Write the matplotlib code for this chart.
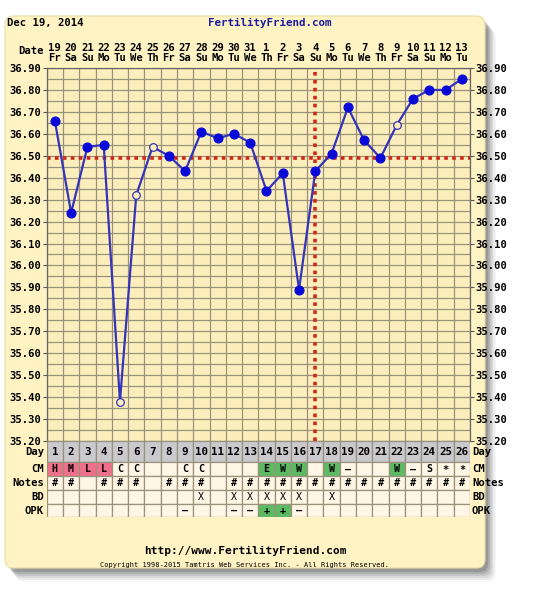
import numpy as np
import matplotlib.pyplot as plt
from matplotlib.patches import FancyBboxPatch, Rectangle

W, H = 551, 600

# chart data
days = list(range(1, 27))
dates = ["19", "20", "21", "22", "23", "24", "25", "26", "27", "28", "29", "30", "31",
         "1", "2", "3", "4", "5", "6", "7", "8", "9", "10", "11", "12", "13"]
weekdays = ["Fr", "Sa", "Su", "Mo", "Tu", "We", "Th", "Fr", "Sa", "Su", "Mo", "Tu", "We",
            "Th", "Fr", "Sa", "Su", "Mo", "Tu", "We", "Th", "Fr", "Sa", "Su", "Mo", "Tu"]
temps = [36.66, 36.24, 36.54, 36.55, 35.38, 36.32, 36.54, 36.50, 36.43, 36.61,
         36.58, 36.60, 36.56, 36.34, 36.42, 35.89, 36.43, 36.51, 36.72, 36.57,
         36.49, 36.64, 36.76, 36.80, 36.80, 36.85]
open_days = [5, 6, 7, 22]
coverline = 36.49
ovulation_day = 17

cm = ["H", "M", "L", "L", "C", "C", "", "", "C", "C", "", "", "", "E", "W", "W",
      "", "W", "-", "", "", "W", "-", "S", "*", "*"]
notes = ["#", "#", "", "#", "#", "#", "", "#", "#", "#", "", "#", "#",
         "#", "#", "#", "#", "#", "#", "#", "#", "#", "#", "#", "#", "#"]
bd = ["", "", "", "", "", "", "", "", "", "X", "", "X", "X", "X", "X", "X",
      "", "X", "", "", "", "", "", "", "", ""]
opk = ["", "", "", "", "", "", "", "", "-", "", "", "-", "-", "+", "+", "-",
       "", "", "", "", "", "", "", "", "", ""]
row_names = ["Day", "CM", "Notes", "BD", "OPK"]

pink = "#F0708C"
green = "#5CBB62"
panel_bg = "#FFF3C4"
plot_bg = "#FCEEBC"
cell_bg = "#FFF6E6"
grid_c = "#99917A"
font = "DejaVu Sans Mono"


def fx(px):
    return px / W


def fy(py):
    return 1 - py / H


fig = plt.figure(figsize=(W / 100, H / 100), dpi=100)
fig.patch.set_facecolor("white")

# shadow + panel
for i, a in enumerate([0.03, 0.05, 0.07, 0.09, 0.11, 0.13]):
    off = 14 - i * 2
    sh = FancyBboxPatch((fx(5 + off * 0.8), fy(568 + off)), fx(480), (568 - 16) / H,
                        boxstyle="round,pad=0,rounding_size=0.015",
                        transform=fig.transFigure, facecolor="black", edgecolor="none",
                        alpha=a, zorder=-3)
    fig.patches.append(sh)
panel = FancyBboxPatch((fx(5), fy(568)), fx(480), (568 - 16) / H,
                       boxstyle="round,pad=0,rounding_size=0.015",
                       transform=fig.transFigure, facecolor=panel_bg,
                       edgecolor="#E8DCA8", linewidth=0.8, zorder=-2)
fig.patches.append(panel)

left, right = 46.7, 470
ax = fig.add_axes([fx(left), fy(441), (right - left) / W, (441 - 68) / H])
ax.set_facecolor(plot_bg)
ax.set_xlim(0.5, 26.5)
ax.set_ylim(35.2, 36.9)

ax.set_xticks(days)
ax.set_xticklabels([f"{d}\n{w}" for d, w in zip(dates, weekdays)],
                   fontfamily=font, fontweight="bold", fontsize=7.6, linespacing=1.05)
ax.set_xticks(np.arange(0.5, 27, 1), minor=True)
ax.xaxis.tick_top()
ax.tick_params(axis="x", which="both", length=0, pad=3.5)

yt = np.round(np.arange(35.2, 36.95, 0.1), 2)
ax.set_yticks(yt)
ax.set_yticklabels([f"{v:.2f}" for v in yt], fontfamily=font, fontweight="bold",
                   fontsize=7.6)
ax.set_yticks(np.arange(35.25, 36.9, 0.1), minor=True)
ax.tick_params(axis="y", which="major", left=True, right=True, labelleft=True,
               labelright=True, length=3, width=0.8, color="#555555", pad=1)
ax.tick_params(axis="y", which="minor", length=0)

ax.grid(which="minor", axis="x", color=grid_c, linewidth=0.9)
ax.grid(which="both", axis="y", color=grid_c, linewidth=0.9)
ax.set_axisbelow(True)
for s in ax.spines.values():
    s.set_color("#666666")
    s.set_linewidth(0.9)

ax.axhline(coverline, color="#D02818", linewidth=2.6, linestyle=(0, (1, 1.2)), zorder=2)
ax.axvline(ovulation_day, color="#D02818", linewidth=2.6, linestyle=(0, (1, 1.2)), zorder=2)

ax.plot(days, temps, color="#3434B8", linewidth=1.6, zorder=3)
filled = [(d, t) for d, t in zip(days, temps) if d not in open_days]
hollow = [(d, t) for d, t in zip(days, temps) if d in open_days]
ax.plot([p[0] for p in filled], [p[1] for p in filled], "o", color="#0A0AD8",
        markersize=6.3, zorder=4)
ax.plot([p[0] for p in hollow], [p[1] for p in hollow], "o", markerfacecolor=plot_bg,
        markeredgecolor="#3434B8", markeredgewidth=0.9, markersize=5.5, zorder=4)

# table below the chart
edges = [0, 21, 35, 49, 63, 76]
tax = fig.add_axes([fx(left), fy(441 + edges[-1]), (right - left) / W, edges[-1] / H])
tax.set_xlim(0.5, 26.5)
tax.set_ylim(edges[-1], 0)
tax.axis("off")

rows = [[str(d) for d in days], cm, notes, bd, opk]
for r, vals in enumerate(rows):
    y0, y1 = edges[r], edges[r + 1]
    for d, v in zip(days, vals):
        fc = cell_bg
        if r == 0:
            fc = "#C9C9CE"
        elif r == 1 and v in ("H", "M", "L"):
            fc = pink
        elif r == 1 and v in ("E", "W"):
            fc = green
        elif r == 4 and v == "+":
            fc = green
        tax.add_patch(Rectangle((d - 0.5, y0), 1, y1 - y0, facecolor=fc,
                                edgecolor=grid_c, linewidth=0.9))
        if v:
            txt = "\u2013" if v == "-" else v
            weight = "normal" if r == 3 else "bold"
            tax.text(d, (y0 + y1) / 2 + 0.5, txt, ha="center", va="center",
                     fontfamily=font, fontweight=weight,
                     fontsize=7.8 if r == 0 else 7.2)
    yc = fy(441 + (y0 + y1) / 2 + 0.5)
    fig.text(fx(44), yc, row_names[r], ha="right", va="center", fontfamily=font,
             fontweight="bold", fontsize=7.6)
    fig.text(fx(472), yc, row_names[r], ha="left", va="center", fontfamily=font,
             fontweight="bold", fontsize=7.6)

fig.text(fx(44), fy(51), "Date", ha="right", va="center", fontfamily=font,
         fontweight="bold", fontsize=7.6)

fig.text(fx(7), fy(23), "Dec 19, 2014", ha="left", va="center", fontfamily=font,
         fontweight="bold", fontsize=7.6)
fig.text(fx(270), fy(23), "FertilityFriend.com", ha="center", va="center",
         fontfamily=font, fontweight="bold", fontsize=7.8, color="#1C1CA0")

fig.text(fx(245), fy(551), "http://www.FertilityFriend.com", ha="center", va="center",
         fontfamily=font, fontweight="bold", fontsize=8)
fig.text(fx(245), fy(565), "Copyright 1998-2015 Tamtris Web Services Inc. - All Rights Reserved.",
         ha="center", va="center", fontfamily=font, fontsize=5)

fig.savefig("out.png", dpi=100)
